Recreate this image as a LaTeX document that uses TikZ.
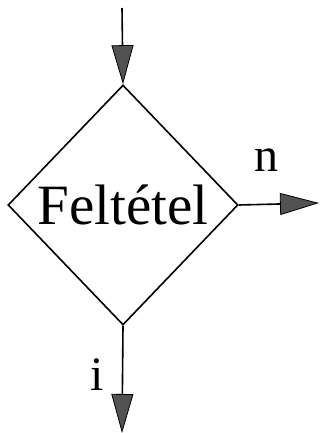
\documentclass[tikz,border=0pt]{standalone}
\usepackage{fontspec}
\setmainfont{Liberation Serif}
\usetikzlibrary{shapes.geometric,arrows.meta}
\begin{document}
\begin{tikzpicture}[x=1pt,y=1pt,
  flow/.style={line width=1.6pt,-{Triangle[length=39pt,width=22pt,fill=black!68,line width=0.8pt]}},
  cond/.style={draw,shape=diamond,line width=1.6pt,inner sep=0pt,minimum width=230pt,minimum height=240pt,font=\fontsize{57}{64}\selectfont},
  lbl/.style={font=\fontsize{48}{56}\selectfont}]
\useasboundingbox[fill=white] (0,0) rectangle (320,-433);
\node[cond] (d) at (123,-205) {Feltétel};
\coordinate (in) at (122,-8);
\coordinate (outn) at (319,-203);
\coordinate (outi) at (122,-433);
\draw[flow] (in) -- (d.north);
\draw[flow] (d.east) -- (outn);
\draw[flow] (d.south) -- (outi);
\node[lbl] (n) at (266,-160) {n};
\node[lbl] (i) at (97,-375) {i};
\end{tikzpicture}
\end{document}
